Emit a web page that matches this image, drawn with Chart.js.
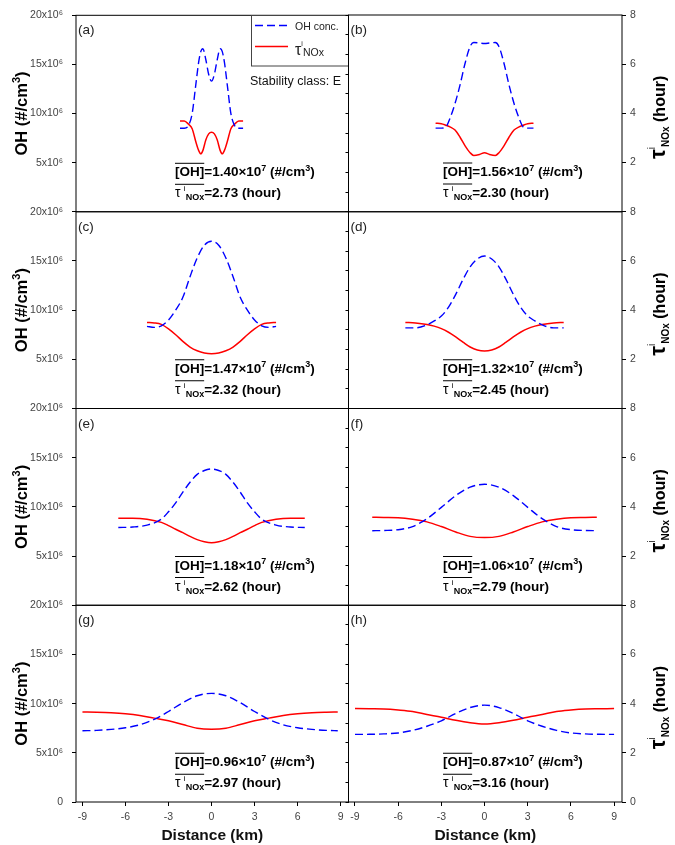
<!DOCTYPE html>
<html lang="en">
<head>
<meta charset="UTF-8">
<title>OH and NOx lifetime across the plume</title>
<script src="https://cdn.jsdelivr.net/npm/chart.js"></script>
<style>
    body { margin: 0; background: #fff; }
    #wrap { position: relative; width: 675px; height: 845px; }
    #wrap canvas { position: absolute; left: 0; top: 0; }
</style>
</head>
<body>
<div id="wrap"></div>
<script>
// distance from plume centre (km), OH (x10^6 #/cm3), tau NOx (hour)
const distA = [-2.2, -1.9, -1.6, -1.35, -1.1, -0.9, -0.75, -0.6, -0.4, -0.2, 0, 0.2, 0.4, 0.6, 0.75, 0.9, 1.1, 1.35, 1.6, 1.9, 2.2];
const ohA   = [8.5, 8.5, 8.8, 10.0, 12.9, 15.2, 16.3, 16.6, 15.5, 14.0, 13.3, 14.0, 15.5, 16.6, 16.3, 15.2, 12.9, 10.0, 8.8, 8.5, 8.5];
const tauA  = [3.70, 3.70, 3.56, 3.38, 2.86, 2.50, 2.36, 2.50, 2.92, 3.17, 3.24, 3.17, 2.92, 2.50, 2.36, 2.50, 2.86, 3.38, 3.56, 3.70, 3.70];

const distB = [-3.4, -3.0, -2.7, -2.4, -2.05, -1.7, -1.35, -1.0, -0.75, -0.35, 0, 0.35, 0.75, 1.0, 1.35, 1.7, 2.05, 2.4, 2.7, 3.0, 3.4];
const ohB   = [8.5, 8.5, 8.6, 9.5, 11.0, 12.9, 15.1, 16.8, 17.2, 17.15, 17.1, 17.15, 17.2, 16.8, 15.1, 12.9, 11.0, 9.5, 8.6, 8.5, 8.5];
const tauB  = [3.60, 3.58, 3.52, 3.45, 3.32, 3.03, 2.68, 2.40, 2.29, 2.33, 2.40, 2.33, 2.29, 2.40, 2.68, 3.03, 3.32, 3.45, 3.52, 3.58, 3.60];

const distC = [-4.5, -4.0, -3.5, -3.0, -2.5, -2.0, -1.5, -1.0, -0.5, 0, 0.5, 1.0, 1.5, 2.0, 2.5, 3.0, 3.5, 4.0, 4.5];
const ohC   = [8.35, 8.25, 8.4, 9.0, 10.0, 11.3, 13.4, 15.3, 16.6, 17.0, 16.6, 15.3, 13.4, 11.3, 10.0, 9.0, 8.4, 8.25, 8.35];
const tauC  = [3.50, 3.48, 3.42, 3.24, 3.00, 2.73, 2.50, 2.35, 2.26, 2.23, 2.26, 2.35, 2.50, 2.73, 3.00, 3.24, 3.42, 3.48, 3.50];

const distD = [-5.5, -4.8, -4.0, -3.5, -3.0, -2.5, -2.0, -1.5, -1.0, -0.5, 0, 0.5, 1.0, 1.5, 2.0, 2.5, 3.0, 3.5, 4.0, 4.8, 5.5];
const ohD   = [8.2, 8.2, 8.5, 8.9, 9.4, 10.3, 11.6, 13.1, 14.4, 15.2, 15.5, 15.2, 14.4, 13.1, 11.6, 10.3, 9.4, 8.9, 8.5, 8.2, 8.2];
const tauD  = [3.50, 3.48, 3.42, 3.35, 3.25, 3.10, 2.91, 2.70, 2.50, 2.38, 2.34, 2.38, 2.50, 2.70, 2.91, 3.10, 3.25, 3.35, 3.42, 3.48, 3.50];

const distE = [-6.5, -5.5, -4.5, -3.5, -3.0, -2.5, -2.0, -1.5, -1.0, -0.5, 0, 0.5, 1.0, 1.5, 2.0, 2.5, 3.0, 3.5, 4.5, 5.5, 6.5];
const ohE   = [7.9, 7.95, 8.15, 8.75, 9.5, 10.4, 11.5, 12.5, 13.3, 13.7, 13.85, 13.7, 13.3, 12.5, 11.5, 10.4, 9.5, 8.75, 8.15, 7.95, 7.9];
const tauE  = [3.54, 3.54, 3.50, 3.37, 3.24, 3.09, 2.95, 2.80, 2.67, 2.58, 2.54, 2.58, 2.67, 2.80, 2.95, 3.09, 3.24, 3.37, 3.50, 3.54, 3.54];

const distF = [-7.8, -7.0, -6.0, -5.0, -4.0, -3.0, -2.0, -1.0, 0, 1.0, 2.0, 3.0, 4.0, 5.0, 6.0, 7.0, 7.8];
const ohF   = [7.58, 7.6, 7.68, 8.0, 8.8, 9.95, 11.15, 12.0, 12.3, 12.0, 11.15, 9.95, 8.8, 8.0, 7.68, 7.6, 7.58];
const tauF  = [3.58, 3.57, 3.56, 3.50, 3.39, 3.20, 2.98, 2.80, 2.75, 2.80, 2.98, 3.20, 3.39, 3.50, 3.56, 3.57, 3.58];

const distG = [-9, -8, -7, -6, -5, -4, -3, -2, -1, 0, 1, 2, 3, 4, 5, 6, 7, 8, 8.8];
const ohG   = [7.24, 7.28, 7.38, 7.55, 7.85, 8.4, 9.2, 10.1, 10.8, 11.04, 10.8, 10.1, 9.2, 8.4, 7.85, 7.55, 7.38, 7.28, 7.25];
const tauG  = [3.66, 3.65, 3.63, 3.59, 3.52, 3.41, 3.30, 3.15, 3.00, 2.96, 3.00, 3.15, 3.30, 3.41, 3.52, 3.59, 3.63, 3.65, 3.66];

const distH = [-9, -8, -7, -6, -5, -4, -3, -2, -1, 0, 1, 2, 3, 4, 5, 6, 7, 8, 9];
const ohH   = [6.87, 6.88, 6.92, 7.02, 7.28, 7.7, 8.25, 9.0, 9.6, 9.85, 9.6, 9.0, 8.25, 7.7, 7.28, 7.02, 6.92, 6.88, 6.87];
const tauH  = [3.80, 3.79, 3.78, 3.74, 3.68, 3.56, 3.45, 3.32, 3.22, 3.17, 3.22, 3.32, 3.45, 3.56, 3.68, 3.74, 3.78, 3.79, 3.80];

const panelLabels = ['(a)', '(b)', '(c)', '(d)', '(e)', '(f)', '(g)', '(h)'];
const ohMeans  = ['1.40', '1.56', '1.47', '1.32', '1.18', '1.06', '0.96', '0.87'];
const tauMeans = ['2.73', '2.30', '2.32', '2.45', '2.62', '2.79', '2.97', '3.16'];
const xTicks = [-9, -6, -3, 0, 3, 6, 9];

const panels = [
    { dist: distA, oh: ohA, tau: tauA },
    { dist: distB, oh: ohB, tau: tauB },
    { dist: distC, oh: ohC, tau: tauC },
    { dist: distD, oh: ohD, tau: tauD },
    { dist: distE, oh: ohE, tau: tauE },
    { dist: distF, oh: ohF, tau: tauF },
    { dist: distG, oh: ohG, tau: tauG },
    { dist: distH, oh: ohH, tau: tauH }
];

const FONT = '"Liberation Sans", Arial, sans-serif';
const W = 675, H = 845;
const rowTops = [15, 211.75, 408.5, 605.25, 802];
const colEdges = [76, 348.5, 622];
const xH = 43;
const OH_COLOR = '#0000ff', TAU_COLOR = '#ff0000';

// draws a row of text pieces (for sub/superscripts), returns overline span
function drawRuns(ctx, x, y, runs, draw = true) {
    let cx = x, o0 = null, o1 = null;
    runs.forEach(r => {
        ctx.font = r.font;
        if (draw) ctx.fillText(r.t, cx, y + (r.dy || 0));
        const w = ctx.measureText(r.t).width;
        if (r.over) { if (o0 === null) o0 = cx; o1 = cx + w; }
        cx += w;
    });
    return { width: cx - x, o0, o1 };
}

function overline(ctx, span, y) {
    ctx.beginPath();
    ctx.moveTo(span.o0, y);
    ctx.lineTo(span.o1, y);
    ctx.lineWidth = 1;
    ctx.strokeStyle = '#000';
    ctx.stroke();
}

function rotatedTitle(ctx, cx, cy, runs, base) {
    ctx.save();
    ctx.translate(cx, cy);
    ctx.rotate(-Math.PI / 2);
    ctx.fillStyle = '#000';
    const w = drawRuns(ctx, 0, 0, runs, false).width;
    drawRuns(ctx, -w / 2, base, runs);
    ctx.restore();
}

function meanText(ctx, x, y1, y2, i) {
    const b = 'bold 13.5px ' + FONT, bs = 'bold 9px ' + FONT;
    ctx.fillStyle = '#000';
    const s1 = drawRuns(ctx, x, y1, [
        { t: '[OH]', font: b, over: true },
        { t: '=' + ohMeans[i] + '×10', font: b },
        { t: '7', font: bs, dy: -5.5 },
        { t: ' (#/cm', font: b },
        { t: '3', font: bs, dy: -5.5 },
        { t: ')', font: b }
    ]);
    overline(ctx, s1, y1 - 13);
    const s2 = drawRuns(ctx, x, y2, [
        { t: 'τ', font: '14px ' + FONT, over: true },
        { t: ' ', font: '12px ' + FONT },
        { t: 'i', font: '8px ' + FONT, dy: -6 },
        { t: 'NOx', font: 'bold 9px ' + FONT, dy: 3, over: true },
        { t: '=' + tauMeans[i] + ' (hour)', font: b }
    ]);
    overline(ctx, s2, y2 - 13);
}

function drawLegend(ctx) {
    ctx.strokeStyle = '#444';
    ctx.lineWidth = 1;
    ctx.strokeRect(251.5, 15.5, 97, 50.5);

    ctx.lineWidth = 1.4;
    ctx.strokeStyle = OH_COLOR;
    ctx.setLineDash([8, 4]);
    ctx.beginPath(); ctx.moveTo(255, 25.5); ctx.lineTo(288, 25.5); ctx.stroke();
    ctx.setLineDash([]);
    ctx.strokeStyle = TAU_COLOR;
    ctx.beginPath(); ctx.moveTo(255, 46.5); ctx.lineTo(288, 46.5); ctx.stroke();

    ctx.fillStyle = '#222';
    ctx.font = '10.5px ' + FONT;
    ctx.fillText('OH conc.', 295, 29.5);
    drawRuns(ctx, 295, 55, [
        { t: 'τ', font: '16px ' + FONT },
        { t: 'i', font: '7px ' + FONT, dy: -9 },
        { t: 'NOx', font: '10.5px ' + FONT, dy: 1 }
    ]);
    ctx.fillStyle = '#111';
    ctx.font = '12.5px ' + FONT;
    ctx.fillText('Stability class: E', 250, 85);
}

function decor(i, col, row) {
    return {
        id: 'decor',
        afterDraw(chart) {
            const ctx = chart.ctx, a = chart.chartArea;
            ctx.save();
            ctx.textAlign = 'left';
            ctx.textBaseline = 'alphabetic';
            ctx.strokeStyle = '#000';
            ctx.lineWidth = 1;
            ctx.strokeRect(a.left, a.top, a.right - a.left, a.bottom - a.top);

            ctx.fillStyle = '#222';
            ctx.font = '13.5px ' + FONT;
            ctx.fillText(panelLabels[i], a.left + 2, a.top + 19);

            meanText(ctx, a.left + (col === 0 ? 99 : 94.5), a.top + 161, a.top + 182, i);

            const mid = (a.top + a.bottom) / 2;
            if (col === 0) {
                rotatedTitle(ctx, 20, mid, [
                    { t: 'OH (#/cm', font: 'bold 16.5px ' + FONT },
                    { t: '3', font: 'bold 11px ' + FONT, dy: -7 },
                    { t: ')', font: 'bold 16.5px ' + FONT }
                ], 7);
            } else {
                rotatedTitle(ctx, 658, mid + 4, [
                    { t: 'τ', font: 'bold 22px ' + FONT },
                    { t: 'i', font: '10px ' + FONT, dy: -10 },
                    { t: 'NOx', font: 'bold 10px ' + FONT, dy: 4 },
                    { t: ' (hour)', font: 'bold 16px ' + FONT }
                ], 7);
            }
            if (i === 0) drawLegend(ctx);
            ctx.restore();
        }
    };
}

const wrap = document.getElementById('wrap');
const tickFont = { family: FONT, size: 10.5 };

panels.forEach((p, i) => {
    const col = i % 2, row = Math.floor(i / 2);
    const bottom = row === 3;
    const leftW = col === 0 ? colEdges[0] : 3;
    const rightW = col === 1 ? W - colEdges[2] : 0;

    const canvas = document.createElement('canvas');
    canvas.width = W;
    canvas.height = H;
    wrap.appendChild(canvas);

    new Chart(canvas, {
        type: 'line',
        data: {
            datasets: [
                {
                    label: 'OH conc.',
                    data: p.dist.map((d, k) => ({ x: d, y: p.oh[k] })),
                    yAxisID: 'yOH',
                    borderColor: OH_COLOR,
                    borderWidth: 1.4,
                    borderDash: [8, 4],
                    pointRadius: 0,
                    cubicInterpolationMode: 'monotone'
                },
                {
                    label: 'tau NOx',
                    data: p.dist.map((d, k) => ({ x: d, y: p.tau[k] })),
                    yAxisID: 'yTau',
                    borderColor: TAU_COLOR,
                    borderWidth: 1.5,
                    pointRadius: 0,
                    cubicInterpolationMode: 'monotone'
                }
            ]
        },
        options: {
            responsive: false,
            animation: false,
            events: [],
            layout: {
                padding: {
                    left: col === 0 ? 0 : colEdges[1] - leftW,
                    right: col === 0 ? W - colEdges[1] : 0,
                    top: rowTops[row],
                    bottom: H - rowTops[row + 1] - (bottom ? xH : 0)
                }
            },
            plugins: { legend: { display: false }, tooltip: { enabled: false } },
            scales: {
                x: {
                    type: 'linear',
                    min: -9.45,
                    max: 9.55,
                    display: bottom,
                    afterBuildTicks: s => { s.ticks = xTicks.map(v => ({ value: v })); },
                    afterFit: s => { s.height = bottom ? xH : 0; },
                    grid: { drawOnChartArea: false, tickLength: 4, tickColor: '#000' },
                    border: { display: false },
                    ticks: { font: tickFont, color: '#444', padding: 5, maxRotation: 0, autoSkip: false },
                    title: {
                        display: true,
                        text: 'Distance (km)',
                        color: '#111',
                        font: { family: FONT, size: 15.5, weight: 'bold' },
                        padding: 0
                    }
                },
                yOH: {
                    position: 'left',
                    min: 0,
                    max: 20,
                    afterFit: s => { s.width = leftW; },
                    grid: { drawOnChartArea: false, tickLength: col === 0 ? 4 : 3, tickColor: '#000' },
                    border: { display: false },
                    ticks: {
                        stepSize: col === 0 ? 5 : 2,
                        display: col === 0,
                        padding: 9,
                        font: tickFont,
                        color: '#444',
                        callback: v => v === 0 ? (bottom ? '0' : '') : v + 'x10⁶'
                    }
                },
                yTau: {
                    position: 'right',
                    min: 0,
                    max: 8,
                    display: col === 1,
                    afterFit: s => { s.width = rightW; },
                    grid: { drawOnChartArea: false, tickLength: 4, tickColor: '#000' },
                    border: { display: false },
                    ticks: {
                        stepSize: 2,
                        padding: 4,
                        font: tickFont,
                        color: '#444',
                        callback: v => (v === 0 && !bottom) ? '' : String(v)
                    }
                }
            }
        },
        plugins: [decor(i, col, row)]
    });
});
</script>
</body>
</html>
